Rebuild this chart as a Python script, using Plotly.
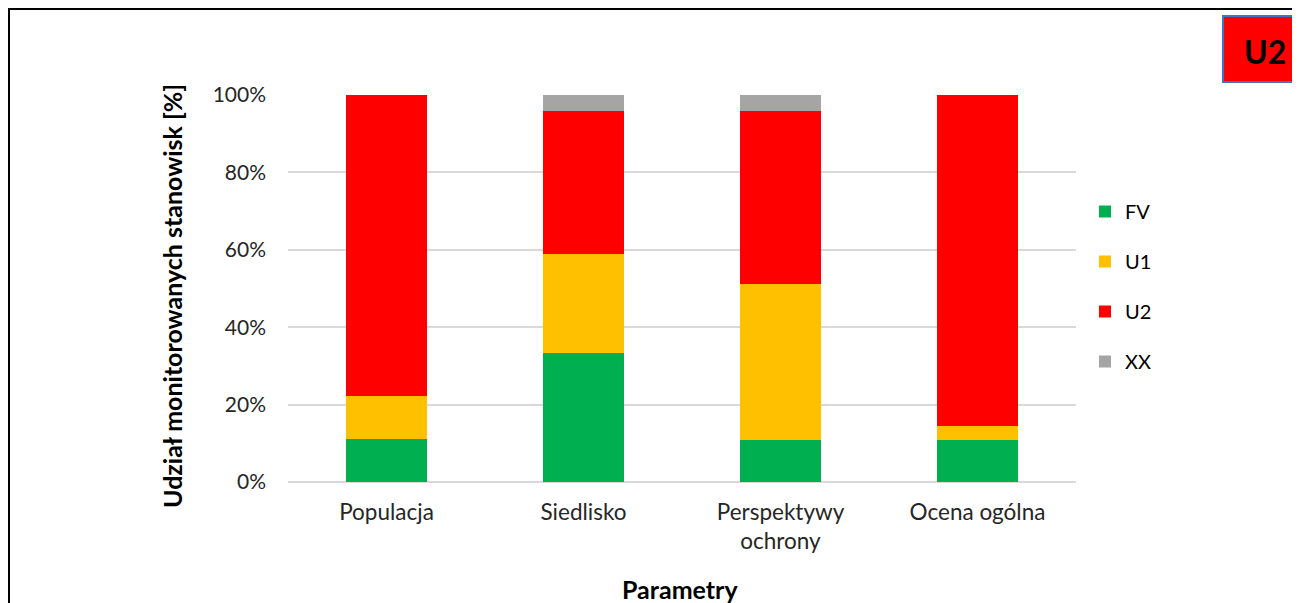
import plotly.graph_objects as go

categories = ["Populacja", "Siedlisko", "Perspektywy<br>ochrony", "Ocena ogólna"]
fv = [11.1, 33.3, 10.9, 10.9]
u1 = [11.1, 25.6, 40.3, 3.6]
u2 = [77.8, 37.0, 44.7, 85.5]
xx = [0.0, 4.1, 4.1, 0.0]

series = [("FV", fv, "#00B050"), ("U1", u1, "#FFC000"), ("U2", u2, "#FF0000"), ("XX", xx, "#A5A5A5")]

FONT = "Lato, 'Open Sans', sans-serif"

fig = go.Figure()
for name, vals, col in series:
    fig.add_trace(go.Bar(x=categories, y=vals, name=name, marker_color=col,
                         marker_line_width=0, legendgroup=name))

W, H = 1300, 603
L, R, T, B = 280, 1068, 87, 474

def px(x):
    return (x - L) / (R - L)

def py(y):
    return (B - y) / (B - T)

fig.update_layout(
    width=W, height=H,
    margin=dict(l=L, r=W - R, t=T, b=H - B),
    barmode="stack", bargap=0.584,
    plot_bgcolor="white", paper_bgcolor="white",
    font=dict(family=FONT, size=21, color="#262626"),
    showlegend=True,
    legend=dict(x=px(1077), y=py(184), xanchor="left", yanchor="top",
                traceorder="grouped", tracegroupgap=21,
                font=dict(size=20, color="#000000"),
                itemwidth=30, bgcolor="rgba(0,0,0,0)"),
    xaxis=dict(showgrid=False, showline=False, ticks="", ticklabelstandoff=14,
               tickfont=dict(size=22.5, color="#262626")),
    yaxis=dict(range=[0, 100], tickvals=[0, 20, 40, 60, 80, 100],
               ticktext=["0%", "20%", "40%", "60%", "80%", "100%"],
               showgrid=True, gridcolor="#D9D9D9", gridwidth=1.5,
               zeroline=True, zerolinecolor="#D9D9D9", zerolinewidth=1.5,
               showline=False, ticks="", ticklabelstandoff=21,
               tickfont=dict(size=21, color="#262626")),
    shapes=[
        dict(type="rect", xref="paper", yref="paper",
             x0=px(1), x1=px(1320), y0=py(640), y1=py(1),
             line=dict(color="black", width=2), fillcolor="rgba(0,0,0,0)", layer="below"),
        dict(type="rect", xref="paper", yref="paper",
             x0=px(1215), x1=px(1302), y0=py(74), y1=py(8),
             line=dict(color="#4472C4", width=2), fillcolor="#FF0000"),
    ],
    annotations=[
        dict(text="<b>U2</b>", xref="paper", yref="paper", x=px(1257), y=py(44),
             xanchor="center", yanchor="middle",
             showarrow=False, font=dict(size=32, color="black", family=FONT)),
        dict(text="<b>Udział monitorowanych stanowisk [%]</b>", xref="paper", yref="paper",
             x=px(164), y=py(288), xanchor="center", yanchor="middle", textangle=-90,
             showarrow=False, font=dict(size=25, color="black", family=FONT)),
        dict(text="<b>Parametry</b>", xref="paper", yref="paper",
             x=px(672), y=py(581), xanchor="center", yanchor="middle", showarrow=False,
             font=dict(size=25, color="black", family=FONT)),
    ],
)

fig.write_html("out.html")
